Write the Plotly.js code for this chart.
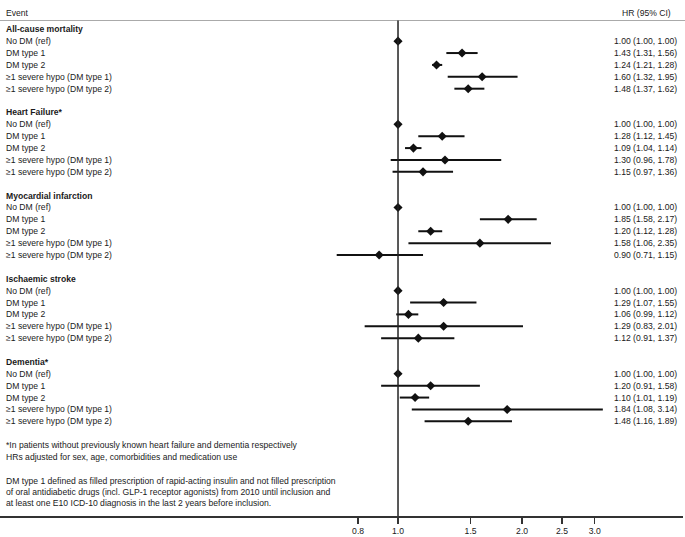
<!DOCTYPE html>
<html>
<head>
<meta charset="utf-8">
<script src="https://cdn.plot.ly/plotly-3.0.1.min.js"></script>
<style>html,body{margin:0;padding:0;background:#fff;}#chart{width:685px;height:537px;}</style>
</head>
<body>
<div id="chart"></div>
<script>
// ---- data ----
const sections = ['All-cause mortality', 'Heart Failure*', 'Myocardial infarction', 'Ischaemic stroke', 'Dementia*'];
const groups = ['No DM (ref)', 'DM type 1', 'DM type 2', '\u22651 severe hypo (DM type 1)', '\u22651 severe hypo (DM type 2)'];

const hrAllCause = [1.00, 1.43, 1.24, 1.60, 1.48];
const loAllCause = [1.00, 1.31, 1.21, 1.32, 1.37];
const hiAllCause = [1.00, 1.56, 1.28, 1.95, 1.62];

const hrHeartFailure = [1.00, 1.28, 1.09, 1.30, 1.15];
const loHeartFailure = [1.00, 1.12, 1.04, 0.96, 0.97];
const hiHeartFailure = [1.00, 1.45, 1.14, 1.78, 1.36];

const hrMI = [1.00, 1.85, 1.20, 1.58, 0.90];
const loMI = [1.00, 1.58, 1.12, 1.06, 0.71];
const hiMI = [1.00, 2.17, 1.28, 2.35, 1.15];

const hrStroke = [1.00, 1.29, 1.06, 1.29, 1.12];
const loStroke = [1.00, 1.07, 0.99, 0.83, 0.91];
const hiStroke = [1.00, 1.55, 1.12, 2.01, 1.37];

const hrDementia = [1.00, 1.20, 1.10, 1.84, 1.48];
const loDementia = [1.00, 0.91, 1.01, 1.08, 1.16];
const hiDementia = [1.00, 1.58, 1.19, 3.14, 1.89];

const tickVals = [0.8, 1.0, 1.5, 2.0, 2.5, 3.0];
const tickLabels = ['0.8', '1.0', '1.5', '2.0', '2.5', '3.0'];

const footnotes = [
  '*In patients without previously known heart failure and dementia respectively',
  'HRs adjusted for sex, age, comorbidities and medication use',
  'DM type 1 defined as filled prescription of rapid-acting insulin and not filled prescription',
  'of oral antidiabetic drugs (incl. GLP-1 receptor agonists) from 2010 until inclusion and',
  'at least one E10 ICD-10 diagnosis in the last 2 years before inclusion.'
];
const footnoteRows = [35.0, 36.0, 38.0, 38.93, 39.85];

// ---- build ----
const HR = [hrAllCause, hrHeartFailure, hrMI, hrStroke, hrDementia];
const LO = [loAllCause, loHeartFailure, loMI, loStroke, loDementia];
const HI = [hiAllCause, hiHeartFailure, hiMI, hiStroke, hiDementia];

const FONT = 'Liberation Sans, Arial, Helvetica, sans-serif';
const FS = 8.6;
const TXT = '#1a1a1a';

const ptX = [], ptY = [], ciX = [], ciY = [];
const annotations = [];
const leftX = 4 / 683, rightX = 679 / 683;

function addText(text, xp, y, anchor, bold) {
  annotations.push({
    xref: 'paper', yref: 'y', x: xp, y: y, xanchor: anchor, yanchor: 'middle',
    text: bold ? '<b>' + text + '</b>' : text, showarrow: false,
    font: {family: FONT, size: FS, color: TXT}
  });
}

addText('Event', leftX, -1.40, 'left', false);
addText('HR (95% CI)', 673 / 683, -1.40, 'right', false);

sections.forEach((sec, s) => {
  const base = s * 7;
  addText(sec, leftX, base, 'left', true);
  groups.forEach((g, i) => {
    const r = base + 1 + i;
    addText(g, leftX, r, 'left', false);
    const h = HR[s][i], l = LO[s][i], u = HI[s][i];
    addText(h.toFixed(2) + ' (' + l.toFixed(2) + ', ' + u.toFixed(2) + ')', rightX, r, 'right', false);
    ptX.push(h); ptY.push(r);
    ciX.push(l, u, null); ciY.push(r, r, null);
  });
});

footnotes.forEach((t, i) => addText(t, leftX, footnoteRows[i], 'left', false));

const traces = [
  {x: ciX, y: ciY, type: 'scatter', mode: 'lines', line: {color: '#111', width: 2}, hoverinfo: 'skip', connectgaps: false},
  {x: ptX, y: ptY, type: 'scatter', mode: 'markers', marker: {symbol: 'diamond', size: 7, color: '#111'}, hoverinfo: 'skip'}
];

const layout = {
  width: 685, height: 537,
  margin: {l: 0, r: 2, t: 0, b: 21, pad: 0},
  paper_bgcolor: '#fff', plot_bgcolor: '#fff',
  showlegend: false,
  font: {family: FONT, size: FS, color: TXT},
  xaxis: {
    type: 'log', range: [-0.9656, 0.6914],
    tickmode: 'array', tickvals: tickVals, ticktext: tickLabels,
    ticks: 'outside', ticklen: 6, tickwidth: 1.5, tickcolor: '#333',
    showline: true, linewidth: 1.5, linecolor: '#333',
    showgrid: false, zeroline: false,
    tickfont: {family: FONT, size: FS, color: TXT}
  },
  yaxis: {range: [40.97, -2.466], visible: false, showgrid: false, zeroline: false},
  shapes: [
    {type: 'line', xref: 'paper', yref: 'y', x0: 0, x1: 1.003, y0: -0.74, y1: -0.74, line: {color: '#aaa', width: 1}},
    {type: 'line', xref: 'x', yref: 'y', x0: 1, x1: 1, y0: -0.74, y1: 40.97, line: {color: '#222', width: 1.5}}
  ],
  annotations: annotations
};

Plotly.newPlot('chart', traces, layout, {displayModeBar: false, staticPlot: true});
</script>
</body>
</html>
